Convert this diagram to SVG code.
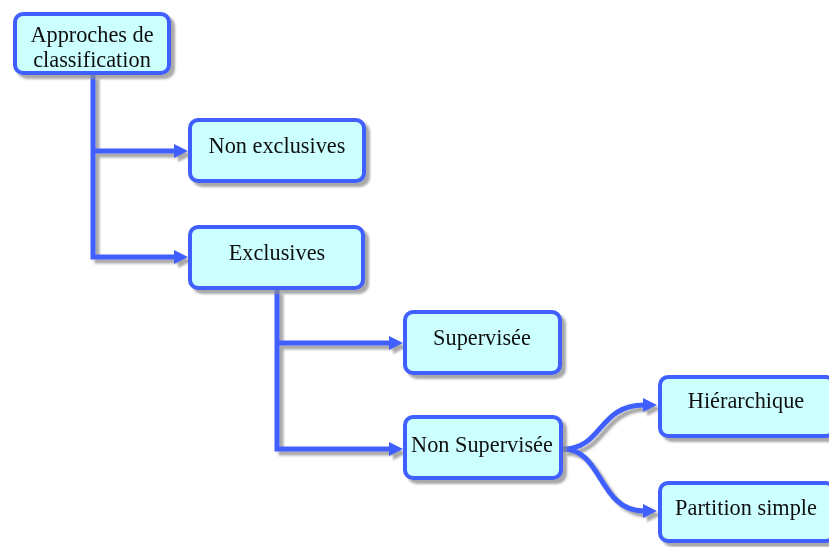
<svg xmlns="http://www.w3.org/2000/svg" width="829" height="547" viewBox="0 0 829 547">
  <defs>
    <filter id="shadow" x="-10%" y="-10%" width="130%" height="130%">
      <feGaussianBlur in="SourceAlpha" stdDeviation="1"/>
      <feOffset dx="4" dy="4" result="off"/>
      <feFlood flood-color="#8c8c8c" flood-opacity="0.75"/>
      <feComposite in2="off" operator="in" result="sh"/>
      <feMerge>
        <feMergeNode in="sh"/>
        <feMergeNode in="SourceGraphic"/>
      </feMerge>
    </filter>
    <marker id="arrow" markerUnits="userSpaceOnUse" markerWidth="16" markerHeight="16" refX="1" refY="7" orient="auto">
      <path d="M0,0 L14,7 L0,14 z" fill="#3f5fff"/>
    </marker>
  </defs>
  <style>
    .box { fill: #ccffff; stroke: #3f5fff; stroke-width: 4; }
    .link { fill: none; stroke: #3f5fff; stroke-width: 5; }
    .lbl { font-family: "Liberation Serif", "Times New Roman", serif; font-size: 22.3px; fill: #111; text-anchor: middle; }
  </style>
  <rect width="829" height="547" fill="#ffffff"/>

  <g id="connectors" filter="url(#shadow)">
    <path class="link" d="M93,75 V257 H175" marker-end="url(#arrow)"/>
    <path class="link" d="M93,151 H175" marker-end="url(#arrow)"/>
    <path class="link" d="M277,290 V449 H390" marker-end="url(#arrow)"/>
    <path class="link" d="M277,343 H390" marker-end="url(#arrow)"/>
    <path class="link" d="M563,449 C603,449 598,405 644,405" marker-end="url(#arrow)"/>
    <path class="link" d="M563,449 C603,449 598,511 644,511" marker-end="url(#arrow)"/>
  </g>

  <g id="approches" filter="url(#shadow)">
    <rect class="box" x="15" y="14" width="154" height="59" rx="8"/>
    <text class="lbl" x="92" y="42">Approches de</text>
    <text class="lbl" x="92" y="67">classification</text>
  </g>
  <g id="non-exclusives" filter="url(#shadow)">
    <rect class="box" x="190" y="120" width="174" height="61" rx="8"/>
    <text class="lbl" x="277" y="153">Non exclusives</text>
  </g>
  <g id="exclusives" filter="url(#shadow)">
    <rect class="box" x="190" y="227" width="173" height="61" rx="8"/>
    <text class="lbl" x="277" y="260">Exclusives</text>
  </g>
  <g id="supervisee" filter="url(#shadow)">
    <rect class="box" x="405" y="312" width="155" height="61" rx="8"/>
    <text class="lbl" x="482" y="345">Supervisée</text>
  </g>
  <g id="non-supervisee" filter="url(#shadow)">
    <rect class="box" x="405" y="417" width="156" height="61" rx="8"/>
    <text class="lbl" x="482" y="452">Non Supervisée</text>
  </g>
  <g id="hierarchique" filter="url(#shadow)">
    <rect class="box" x="660" y="377" width="174" height="59" rx="8"/>
    <text class="lbl" x="746" y="408">Hiérarchique</text>
  </g>
  <g id="partition-simple" filter="url(#shadow)">
    <rect class="box" x="660" y="483" width="174" height="58" rx="8"/>
    <text class="lbl" x="746" y="515">Partition simple</text>
  </g>
</svg>
